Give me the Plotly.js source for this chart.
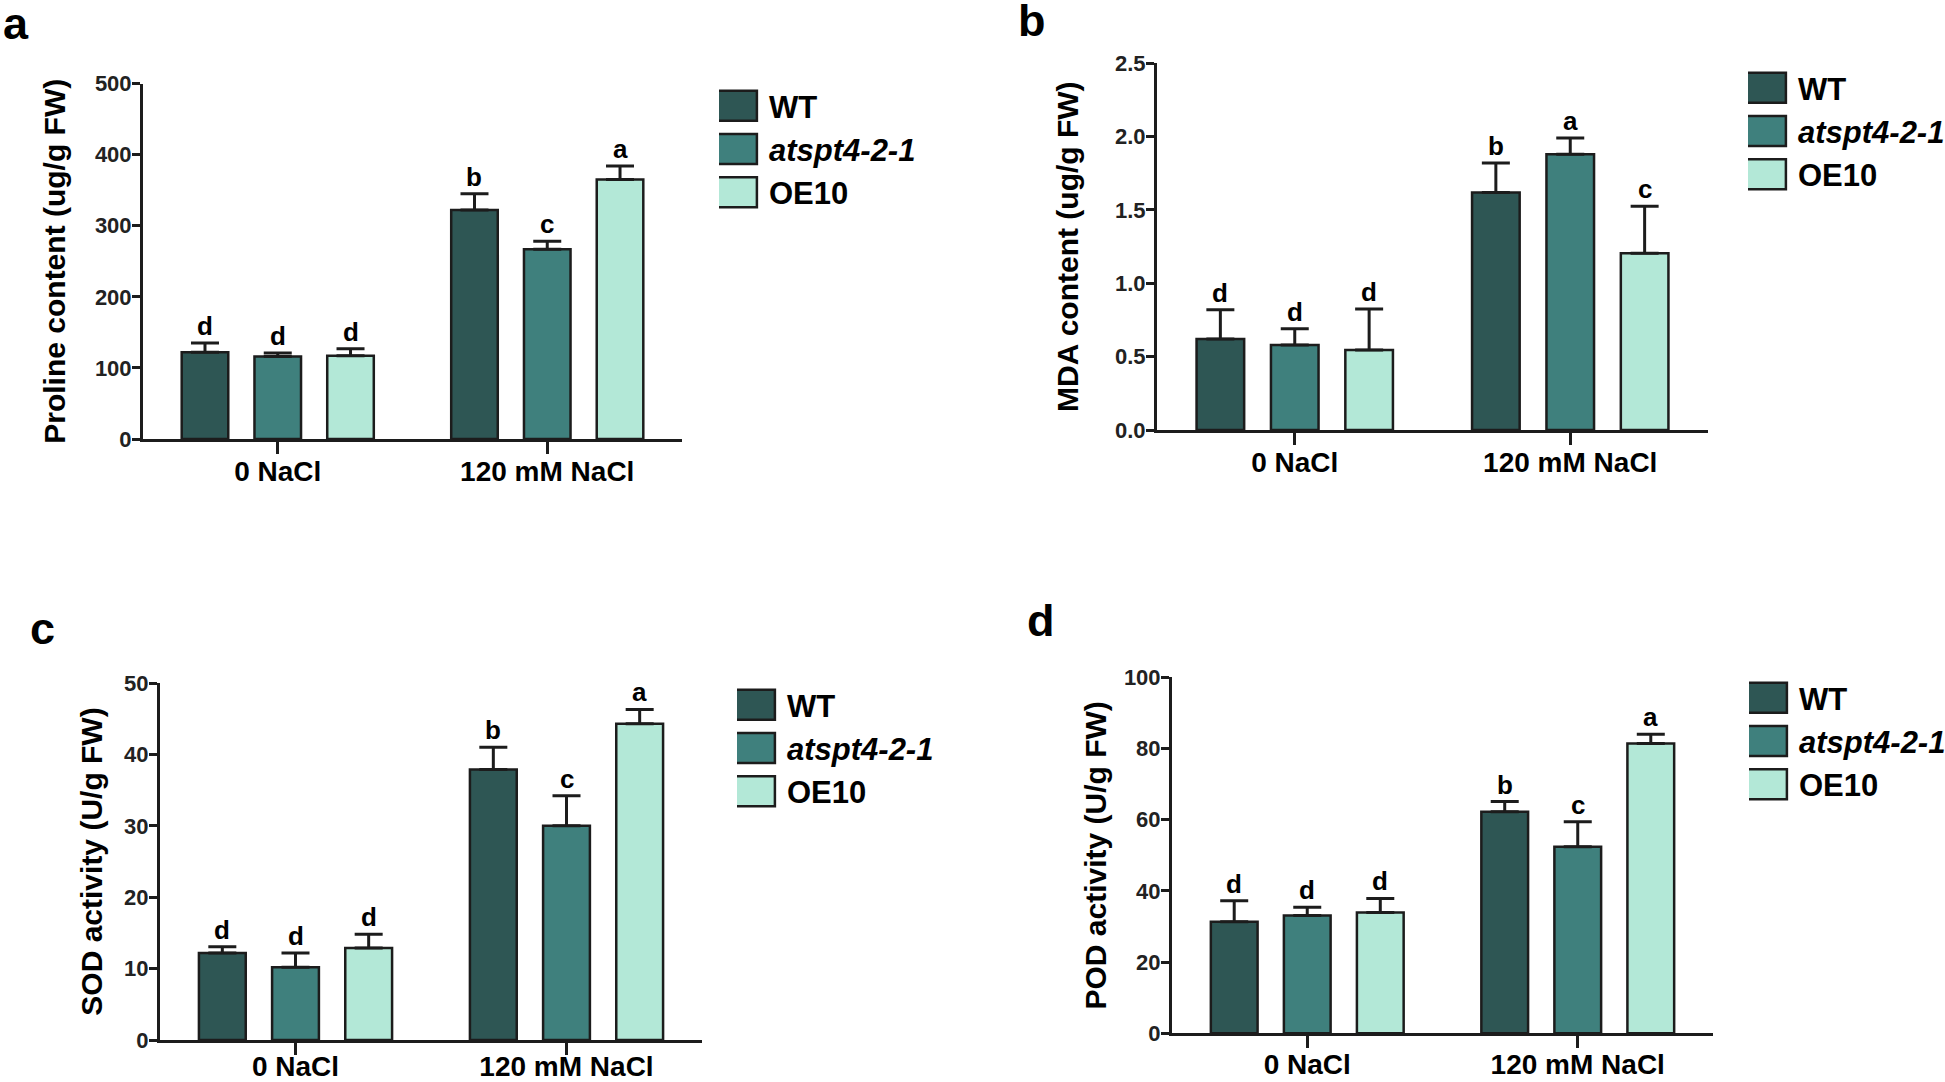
<!DOCTYPE html>
<html><head><meta charset="utf-8">
<script src="https://cdn.plot.ly/plotly-3.0.1.min.js"></script>
<style>html,body{margin:0;padding:0;background:#fff;} #chart{width:1945px;height:1082px;}</style>
</head><body><div id="chart"></div>
<script>
// ---------------- DATA ----------------
const categories = ['0 NaCl', '120 mM NaCl'];
const seriesNames = ['WT', '<i>atspt4-2-1</i>', 'OE10'];

// a: Proline content (ug/g FW)
const prolineWT = [122, 322];
const prolineWTErr = [13, 23];
const prolineMut = [116, 267];
const prolineMutErr = [5, 11];
const prolineOE = [117, 365];
const prolineOEErr = [10, 19];
const prolineWTLetters = ['d', 'b'];
const prolineMutLetters = ['d', 'c'];
const prolineOELetters = ['d', 'a'];

// b: MDA content (ug/g FW)
const mdaWT = [0.62, 1.62];
const mdaWTErr = [0.20, 0.20];
const mdaMut = [0.58, 1.88];
const mdaMutErr = [0.11, 0.11];
const mdaOE = [0.545, 1.205];
const mdaOEErr = [0.28, 0.32];
const mdaWTLetters = ['d', 'b'];
const mdaMutLetters = ['d', 'a'];
const mdaOELetters = ['d', 'c'];

// c: SOD activity (U/g FW)
const sodWT = [12.2, 37.9];
const sodWTErr = [0.85, 3.1];
const sodMut = [10.2, 30.0];
const sodMutErr = [2.0, 4.2];
const sodOE = [12.9, 44.3];
const sodOEErr = [1.9, 2.0];
const sodWTLetters = ['d', 'b'];
const sodMutLetters = ['d', 'c'];
const sodOELetters = ['d', 'a'];

// d: POD activity (U/g FW)
const podWT = [31.3, 62.2];
const podWTErr = [5.9, 2.9];
const podMut = [33.1, 52.4];
const podMutErr = [2.3, 7.0];
const podOE = [33.9, 81.4];
const podOEErr = [4.0, 2.6];
const podWTLetters = ['d', 'b'];
const podMutLetters = ['d', 'c'];
const podOELetters = ['d', 'a'];

// ---------------- STYLE / LAYOUT ----------------
const W = 1945, H = 1082;
const FONT = 'Liberation Sans, Arial, Helvetica, sans-serif';
const seriesColors = ['#2e5654', '#3f807d', '#b3e8d7'];
const edge = '#1c1c1c';
const BARGAP = 0.19, BARGROUPGAP = 0.36;

const panels = [
  {letter: 'a', title: 'Proline content (ug/g FW)', px: [143, 682], py: [83.5, 439], range: [0, 500], dtick: 100, fmt: '',
   series: [[prolineWT, prolineWTErr, prolineWTLetters], [prolineMut, prolineMutErr, prolineMutLetters], [prolineOE, prolineOEErr, prolineOELetters]],
   legendPx: [719, 79], letterPx: [16, 24], standoff: 21, catStandoff: -7},
  {letter: 'b', title: 'MDA content (ug/g FW)', px: [1157, 1708], py: [63.3, 430], range: [0, 2.5], dtick: 0.5, fmt: '.1f',
   series: [[mdaWT, mdaWTErr, mdaWTLetters], [mdaMut, mdaMutErr, mdaMutLetters], [mdaOE, mdaOEErr, mdaOELetters]],
   legendPx: [1748, 61], letterPx: [1032, 20], standoff: 28, catStandoff: -7},
  {letter: 'c', title: 'SOD activity (U/g FW)', px: [160, 702], py: [683, 1040], range: [0, 50], dtick: 10, fmt: '',
   series: [[sodWT, sodWTErr, sodWTLetters], [sodMut, sodMutErr, sodMutLetters], [sodOE, sodOEErr, sodOELetters]],
   legendPx: [737, 678], letterPx: [42, 628], standoff: 13, catStandoff: -13},
  {letter: 'd', title: 'POD activity (U/g FW)', px: [1172, 1713], py: [677.3, 1033.3], range: [0, 100], dtick: 20, fmt: '',
   series: [[podWT, podWTErr, podWTLetters], [podMut, podMutErr, podMutLetters], [podOE, podOEErr, podOELetters]],
   legendPx: [1749, 671], letterPx: [1041, 620], standoff: 9, catStandoff: -8}
];

const traces = [];
const annotations = [];
const layout = {
  width: W, height: H,
  margin: {l: 0, r: 0, t: 0, b: 0, autoexpand: false},
  paper_bgcolor: '#fff', plot_bgcolor: 'rgba(0,0,0,0)',
  barmode: 'group', bargap: BARGAP, bargroupgap: BARGROUPGAP,
  showlegend: true,
  font: {family: FONT, color: '#111'},
  annotations: annotations
};

panels.forEach((p, k) => {
  const sfx = k === 0 ? '' : String(k + 1);
  const xa = 'x' + sfx, ya = 'y' + sfx;
  const legendId = 'legend' + sfx;
  layout['xaxis' + sfx] = {
    domain: [p.px[0] / W, p.px[1] / W],
    anchor: ya,
    type: 'category',
    range: [-0.5, 1.5],
    showline: true, linewidth: 3, linecolor: edge,
    ticks: 'outside', ticklen: 12, tickwidth: 3, tickcolor: edge,
    ticklabelstandoff: p.catStandoff,
    tickfont: {family: FONT, size: 28, color: '#000', weight: 'bold'},
    showgrid: false, zeroline: false, fixedrange: true, automargin: false
  };
  layout['yaxis' + sfx] = {
    domain: [1 - p.py[1] / H, 1 - p.py[0] / H],
    anchor: xa,
    range: p.range, dtick: p.dtick, tick0: 0, tickformat: p.fmt,
    showline: true, linewidth: 3, linecolor: edge,
    ticks: 'outside', ticklen: 8, tickwidth: 3, tickcolor: edge,
    ticklabelstandoff: -4,
    tickfont: {family: FONT, size: 22, color: '#222', weight: 'bold'},
    showgrid: false, zeroline: false, fixedrange: true, automargin: false,
    title: {text: p.title, font: {family: FONT, size: 30, color: '#000', weight: 'bold'}, standoff: p.standoff}
  };
  layout[legendId] = {
    x: p.legendPx[0] / W, y: 1 - p.legendPx[1] / H,
    xanchor: 'left', yanchor: 'top',
    bgcolor: 'rgba(0,0,0,0)', borderwidth: 0,
    itemwidth: 40, itemclick: false, itemdoubleclick: false,
    font: {family: FONT, size: 31, color: '#000', weight: 'bold'},
    tracegroupgap: 0
  };
  const catPx = (p.px[1] - p.px[0]) / 2;
  const pitch = catPx * (1 - BARGAP) / 3;
  p.series.forEach((s, i) => {
    const [vals, errs, letters] = s;
    traces.push({
      type: 'bar', name: seriesNames[i],
      x: categories, y: vals,
      xaxis: xa, yaxis: ya, legend: legendId,
      marker: {color: seriesColors[i], line: {color: edge, width: 2.5}},
      error_y: {type: 'data', array: errs, arrayminus: errs.map(() => 0), symmetric: false,
                color: edge, thickness: 3, width: 14},
      hoverinfo: 'x+y+name'
    });
    categories.forEach((c, j) => {
      annotations.push({
        xref: xa, yref: ya, x: c, y: vals[j] + errs[j],
        xshift: (i - 1) * pitch, yshift: 0,
        text: letters[j], showarrow: false, yanchor: 'bottom', xanchor: 'center',
        font: {family: FONT, size: 26, color: '#000', weight: 'bold'}
      });
    });
  });
  annotations.push({
    xref: 'paper', yref: 'paper', x: p.letterPx[0] / W, y: 1 - p.letterPx[1] / H,
    text: p.letter, showarrow: false, xanchor: 'center', yanchor: 'middle',
    font: {family: FONT, size: 45, color: '#000', weight: 'bold'}
  });
});

Plotly.newPlot('chart', traces, layout, {displayModeBar: false, staticPlot: true}).then(gd => {
  // enlarge the legend swatches to match the large square keys of the figure
  gd.querySelectorAll('.legendpoints path').forEach(el => {
    el.setAttribute('transform', 'translate(10,0) scale(4.65,2.5)');
    el.style.vectorEffect = 'non-scaling-stroke';
    el.style.strokeWidth = '2.5px';
    el.style.stroke = edge;
  });
});
</script>
</body></html>
